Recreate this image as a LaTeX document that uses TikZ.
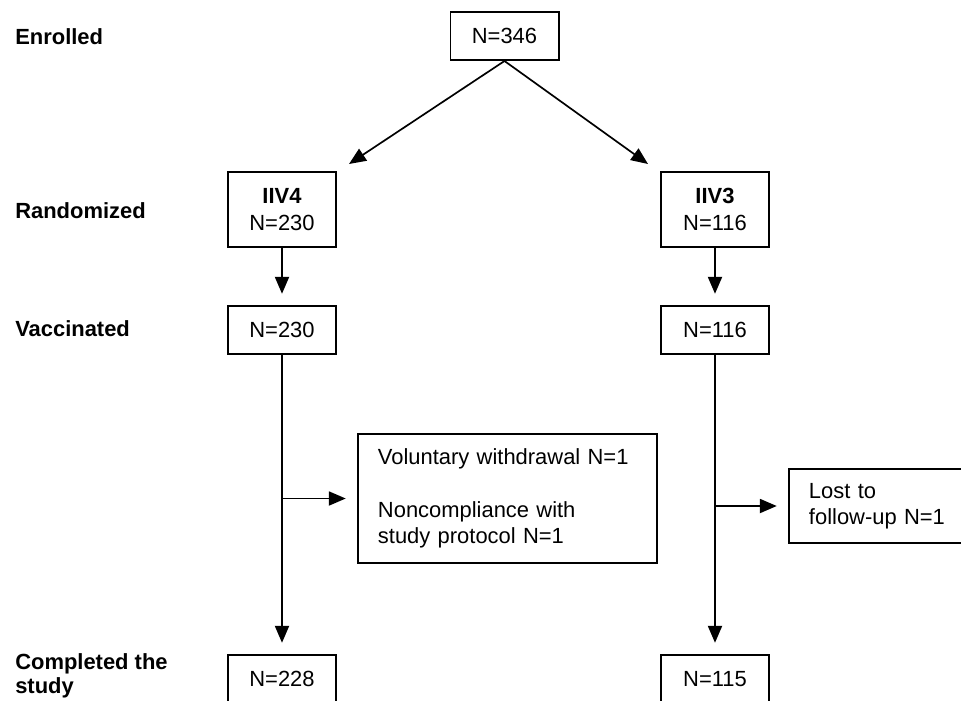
\documentclass[tikz,border=0pt]{standalone}
\usepackage{fontspec}
\setmainfont{Liberation Sans}
\usetikzlibrary{arrows.meta, calc, positioning}

\begin{document}
\begin{tikzpicture}[x=0.025cm, y=-0.025cm, >={Triangle[length=12pt,width=10pt]}]
        \tikzstyle{box}=[draw, line width=1.4pt, inner sep=0pt, minimum width=2.7cm, minimum height=1.2cm, font=\fontsize{15.6pt}{18.8pt}\selectfont, align=center]
        \tikzstyle{sidebox}=[box, inner xsep=0.5cm, align=left]
        \tikzstyle{stage}=[anchor=west, inner sep=0pt, align=left, font=\fontsize{15.6pt}{18.8pt}\selectfont\bfseries]
        \tikzstyle{flow}=[line width=1.2pt, ->]
        \tikzstyle{gap}=[shorten >=8pt]

        \useasboundingbox (0,0) rectangle (961,700);
        \clip (0,0) rectangle (961,700);

        % Stage labels
        \node[stage] (lenr) at (15,36.5) {Enrolled};
        \node[stage] (lrand) at (15,210.5) {Randomized};
        \node[stage] (lvacc) at (15,329) {Vaccinated};
        \node[stage] (ldone) at (15,675.5) {Completed the\\[-1.8pt]study};

        % Enrolled and randomized arms
        \node[box] (enr) at (504.5,36) {N=346};
        \node[box, minimum height=1.875cm] (iiv4) at (282,209.5) {\textbf{IIV4}\\N=230};
        \node[box, minimum height=1.875cm] (iiv3) at (715,209.5) {\textbf{IIV3}\\N=116};

        % Vaccinated
        \node[box] (vacL) at (282,330) {N=230};
        \node[box] (vacR) at (715,330) {N=116};

        % Withdrawals
        \node[sidebox, text width=6.475cm, minimum height=3.225cm] (mid) at (507.5,498.5)
            {Voluntary withdrawal N=1\\[18.8pt]Noncompliance with\\study protocol N=1};
        \node[sidebox, text width=3.75cm, minimum height=1.85cm, anchor=west] (lost) at (788,506)
            {Lost to\\follow-up N=1};

        % Completed
        \node[box] (doneL) at (282,679) {N=228};
        \node[box] (doneR) at (715,679) {N=115};

        % Randomization arrows
        \coordinate (tipL) at (349,164);
        \coordinate (tipR) at (648,164);
        \draw[flow] (enr.south) -- (tipL);
        \draw[flow] (enr.south) -- (tipR);

        % Down the arms
        \draw[flow, gap] (iiv4) -- (vacL);
        \draw[flow, gap] (iiv3) -- (vacR);
        \draw[flow, gap] (vacL) -- (doneL);
        \draw[flow, gap] (vacR) -- (doneR);

        % Side branches
        \coordinate (brL) at (vacL |- mid);
        \coordinate (brR) at (vacR |- lost);
        \draw[flow, gap] (brL) -- (mid);
        \draw[flow, gap] (brR) -- (lost);
\end{tikzpicture}
\end{document}
